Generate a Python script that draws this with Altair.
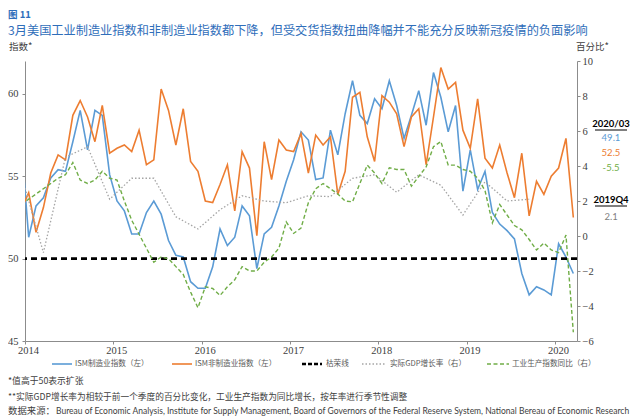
import altair as alt
import pandas as pd

# ---------------- data ----------------
# monthly series, Dec 2013 .. Mar 2020 (Dec 2013 only feeds the clipped first segment)
month_labels = ["2013-12"] + [f"{y}-{m:02d}" for y in range(2014, 2021) for m in range(1, 13)][:75]

ism_mfg = [57.0,
           51.3, 53.2, 53.7, 54.9, 55.4, 55.3, 57.1, 59.0, 56.6, 59.0, 58.7, 55.1,
           53.5, 52.9, 51.5, 51.5, 52.8, 53.5, 52.7, 51.1, 50.2, 50.1, 48.6, 48.2,
           48.2, 49.5, 51.8, 50.8, 51.3, 53.2, 52.6, 49.4, 51.5, 51.9, 53.2, 54.7,
           56.0, 57.7, 57.2, 54.8, 54.9, 57.8, 56.3, 58.8, 60.8, 58.7, 58.2, 59.7,
           59.1, 60.8, 59.3, 57.3, 58.7, 60.2, 58.1, 61.3, 59.8, 57.7, 59.3, 54.1,
           56.6, 54.2, 55.3, 52.8, 52.1, 51.7, 51.2, 49.1, 47.8, 48.3, 48.1, 47.8,
           50.9, 50.1, 49.1]

ism_nonmfg = [53.0,
              54.0, 51.6, 53.1, 55.2, 56.3, 56.0, 58.7, 59.6, 58.6, 57.1, 59.3, 56.4,
              56.7, 56.9, 56.5, 57.8, 55.7, 56.0, 60.3, 59.0, 56.9, 59.1, 55.9, 55.3,
              53.5, 53.4, 54.5, 55.7, 52.9, 56.5, 55.5, 51.4, 57.1, 54.8, 57.2, 56.6,
              56.5, 57.6, 55.2, 57.5, 56.9, 57.4, 53.9, 55.3, 59.8, 60.1, 57.4, 55.9,
              59.9, 59.5, 58.8, 56.8, 58.6, 59.1, 55.7, 58.6, 61.6, 60.3, 60.7, 57.8,
              56.7, 59.7, 56.1, 55.5, 56.9, 55.2, 53.7, 56.4, 52.6, 54.7, 53.9, 55.0,
              55.5, 57.3, 52.5]

ip_yoy = [1.8,
          2.1, 2.4, 2.7, 3.0, 3.3, 3.5, 4.2, 3.2, 3.0, 3.2, 3.7, 3.3,
          3.2, 2.0, 0.9, 0.1, -0.7, -1.5, -1.2, -1.3, -1.75, -2.2, -3.2, -4.1,
          -2.9, -3.0, -3.4, -2.9, -2.5, -1.75, -2.0, -2.0, -1.5, -1.2, -0.7, 0.8,
          0.15, 0.45, 1.9, 2.7, 3.0, 2.7, 2.4, 2.0, 1.95, 3.0, 4.05, 3.6,
          3.0, 3.9, 3.8, 3.8, 2.85, 3.4, 3.95, 5.1, 5.4, 4.05, 4.05, 3.8,
          3.7, 3.3, 2.6, 0.75, 1.8, 1.2, 0.6, 0.35, -0.2, -0.8, -0.4, -0.8,
          -0.95, 0.05, -5.5]

# quarterly real GDP growth, plotted at the last month of each quarter
gdp_quarters = ["2013Q4",
                "2014Q1", "2014Q2", "2014Q3", "2014Q4",
                "2015Q1", "2015Q2", "2015Q3", "2015Q4",
                "2016Q1", "2016Q2", "2016Q3", "2016Q4",
                "2017Q1", "2017Q2", "2017Q3", "2017Q4",
                "2018Q1", "2018Q2", "2018Q3", "2018Q4",
                "2019Q1", "2019Q2", "2019Q3"]
gdp_growth = [3.5,
              -0.95, 4.5, 5.1, 2.1,
              3.3, 3.3, 1.1, 0.4,
              1.5, 2.3, 2.0, 1.9,
              2.3, 2.25, 3.3, 3.5,
              2.5, 3.5, 2.9, 1.2,
              3.1, 2.0, 2.1]
gdp_2019q4 = 2.1
threshold = 50

year_ticks = [2014, 2015, 2016, 2017, 2018, 2019, 2020]
left_ticks = [45, 50, 55, 60]
right_ticks = [-6, -4, -2, 0, 2, 4, 6, 8, 10]

# ---------------- tables ----------------
def month_pos(lbl):
    y, m = lbl.split("-")
    return (int(y) - 2014) * 12 + int(m) - 1 + 0.5

def quarter_pos(q):
    y, qq = q.split("Q")
    return (int(y) - 2014) * 12 + int(qq) * 3 - 1 + 0.5

mdf = pd.DataFrame({"t": [month_pos(l) for l in month_labels],
                    "mfg": ism_mfg, "nonmfg": ism_nonmfg, "ip": ip_yoy})
gdf = pd.DataFrame({"t": [quarter_pos(q) for q in gdp_quarters], "gdp": gdp_growth})
thr = pd.DataFrame({"v": [threshold]})
one = alt.Data(values=[{"k": 0}])

CJK = "Noto Sans CJK SC"
SERIF = "Liberation Serif"
LAT = "Lato"
AX = "#8c8c8c"
OX, OY = 25, 61          # page position of the plot origin
W, H = 552, 280

xscale = alt.Scale(domain=[0, 75], nice=False, zero=False)
xaxis = alt.Axis(values=[(y - 2014) * 12 for y in year_ticks],
                 labelExpr="'' + (2014 + datum.value / 12)",
                 title=None, grid=False, domainColor=AX, tickColor=AX, tickSize=3,
                 labelFont=SERIF, labelFontSize=10.5, labelColor="#404040",
                 labelOffset=3, labelPadding=1, labelOverlap=False, labelFlush=False)
lscale = alt.Scale(domain=[45, 62], nice=False, zero=False)
laxis = alt.Axis(values=left_ticks, title=None, grid=False, orient="left",
                 domainColor=AX, tickColor=AX, tickSize=3, labelPadding=4, labelFlush=False,
                 labelFont=SERIF, labelFontSize=10.5, labelColor="#404040")
rscale = alt.Scale(domain=[-6, 10], nice=False, zero=False)
raxis = alt.Axis(values=right_ticks, title=None, grid=False, orient="right",
                 domainColor=AX, tickColor=AX, tickSize=3, labelPadding=2, labelFlush=False,
                 labelFont=SERIF, labelFontSize=10.5, labelColor="#404040")

X = alt.X("t:Q", scale=xscale, axis=xaxis)

blue = alt.Chart(mdf).mark_line(color="#5b9bd5", strokeWidth=1.6, clip=True).encode(
    x=X, y=alt.Y("mfg:Q", scale=lscale, axis=laxis))
orange = alt.Chart(mdf).mark_line(color="#ed7d31", strokeWidth=1.6, clip=True).encode(
    x=X, y=alt.Y("nonmfg:Q", scale=lscale, axis=laxis))
rule50 = alt.Chart(thr).mark_rule(color="black", strokeWidth=2.6, strokeDash=[6, 4]).encode(
    y=alt.Y("v:Q", scale=lscale, axis=laxis))
gray = alt.Chart(gdf).mark_line(color="#a5a5a5", strokeWidth=1.3, strokeDash=[1.5, 2], clip=True).encode(
    x=X, y=alt.Y("gdp:Q", scale=rscale, axis=raxis))
green = alt.Chart(mdf).mark_line(color="#70ad47", strokeWidth=1.4, strokeDash=[4, 2.5], clip=True).encode(
    x=X, y=alt.Y("ip:Q", scale=rscale, axis=raxis))

left = alt.layer(blue, orange, rule50)
right = alt.layer(gray, green)


def txt(s, px, py, size, color, font=CJK, weight="normal", align="left"):
    return alt.Chart(one).mark_text(fontSize=size, color=color, font=font, fontWeight=weight,
                                    align=align, baseline="middle").encode(
        x=alt.value(px - OX), y=alt.value(py - OY), text=alt.value(s))


def seg(x1, x2, py, color, width=1.6, dash=None):
    kw = dict(color=color, strokeWidth=width)
    if dash:
        kw["strokeDash"] = dash
    return alt.Chart(one).mark_rule(**kw).encode(
        x=alt.value(x1 - OX), x2=alt.value(x2 - OX), y=alt.value(py - OY))


TBLUE = "#2f6eba"
RX = 611   # centre of the right-hand value box
notes = [
    txt("图 11", 8, 15.2, 9.5, TBLUE, weight="bold"),
    txt("3月美国工业制造业指数和非制造业指数都下降，但受交货指数扭曲降幅并不能充分反映新冠疫情的负面影响",
        8, 31, 12.2, TBLUE),
    txt("指数*", 9, 46.5, 9.5, "#404040"),
    txt("百分比*", 576, 46.5, 9.5, "#404040"),
    # right-hand value box
    txt("2020/03", RX, 124, 9.5, "black", font=LAT, weight="bold", align="center"),
    seg(RX - 16, RX + 16, 130, "black", width=1),
    txt(f"{ism_mfg[-1]}", RX, 138, 9.5, "#5b9bd5", font=LAT, align="center"),
    txt(f"{ism_nonmfg[-1]}", RX, 153, 9.5, "#ed7d31", font=LAT, align="center"),
    txt(f"{ip_yoy[-1]}", RX, 168, 9.5, "#70ad47", font=LAT, align="center"),
    txt("2019Q4", RX, 200, 9.5, "black", font=LAT, weight="bold", align="center"),
    seg(RX - 16, RX + 16, 206, "black", width=1),
    txt(f"{gdp_2019q4}", RX, 217, 9.5, "#7f7f7f", font=LAT, align="center"),
    # legend
    seg(52, 72, 364, "#5b9bd5", 1.6),
    txt("ISM制造业指数（左）", 75, 364, 7.6, "#595959"),
    seg(172, 192, 364, "#ed7d31", 1.6),
    txt("ISM非制造业指数（左）", 195, 364, 7.6, "#595959"),
    seg(302, 322, 364, "black", 2.6, [4, 2]),
    txt("枯荣线", 326, 364, 7.6, "#595959"),
    seg(362, 386, 364, "#a5a5a5", 1.3, [1.5, 2]),
    txt("实际GDP增长率（右）", 390, 364, 7.6, "#595959"),
    seg(487, 509, 364, "#70ad47", 1.4, [4, 2.5]),
    txt("工业生产指数同比（右）", 512, 364, 7.6, "#595959"),
    # footnotes
    txt("*值高于50表示扩张", 8, 381, 8.8, "#404040"),
    txt("**实际GDP增长率为相较于前一个季度的百分比变化，工业生产指数为同比增长，按年率进行季节性调整",
        8, 397, 8.7, "#404040"),
    txt("数据来源：", 8, 411, 9.4, "#404040"),
    txt("Bureau of Economic Analysis, Institute for Supply Management, Board of Governors of the "
        "Federal Reserve System, National Bereau of Economic Research", 56, 411, 8.5, "#404040", font=LAT),
]

chart = alt.layer(left, right, *notes).resolve_scale(y="independent").properties(
    width=W, height=H,
    padding={"left": 17, "top": 53, "right": 55, "bottom": 76},
    autosize=alt.AutoSizeParams(type="none"),
    background="white",
).configure_view(stroke=None)

chart.save("out.html", embed_options={"renderer": "svg", "actions": False})
